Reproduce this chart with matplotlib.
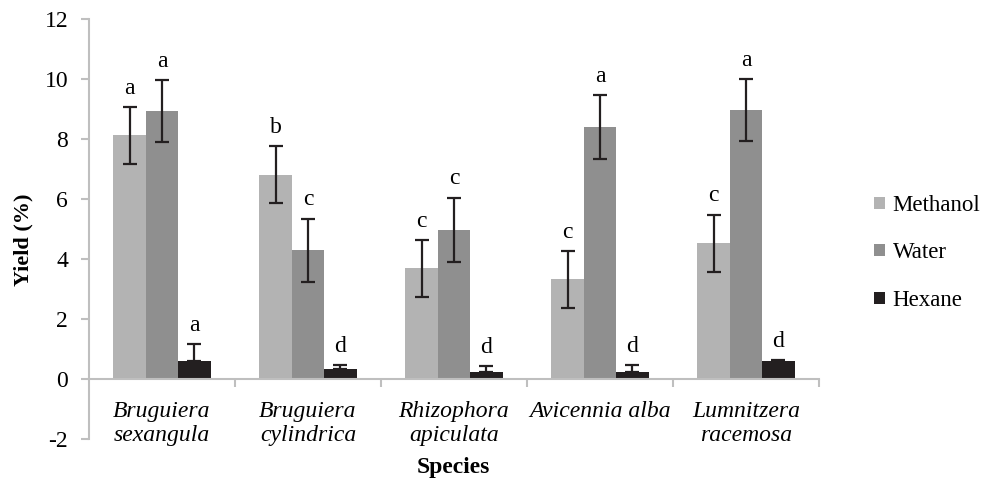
import numpy as np
import matplotlib
matplotlib.use("Agg")
import matplotlib.pyplot as plt

# data
species = ["Bruguiera\nsexangula", "Bruguiera\ncylindrica", "Rhizophora\napiculata",
           "Avicennia alba", "Lumnitzera\nracemosa"]
methanol = [8.12, 6.81, 3.69, 3.32, 4.53]
methanol_err = [0.94, 0.95, 0.94, 0.94, 0.95]
water = [8.93, 4.30, 4.97, 8.39, 8.96]
water_err = [1.03, 1.05, 1.08, 1.06, 1.03]
hexane = [0.60, 0.33, 0.23, 0.23, 0.60]
hexane_err = [0.56, 0.14, 0.20, 0.24, 0.02]
methanol_letters = ["a", "b", "c", "c", "c"]
water_letters = ["a", "c", "c", "a", "a"]
hexane_letters = ["a", "d", "d", "d", "d"]

plt.rcParams['font.family'] = ['Liberation Serif', 'DejaVu Serif']
plt.rcParams['axes.unicode_minus'] = False

fig = plt.figure(figsize=(9.81, 4.78), dpi=100)
ax = fig.add_axes([89 / 981, 1 - 439 / 478, 730 / 981, 420 / 478])

x = np.arange(len(species))
w = 0.222
# (name, values, errors, letters, colour, offset, show lower error)
series = [
    ("Methanol", methanol, methanol_err, methanol_letters, "#b3b3b3", -w, True),
    ("Water", water, water_err, water_letters, "#8f8f8f", 0, True),
    ("Hexane", hexane, hexane_err, hexane_letters, "#231f20", w, False),
]
for name, vals, errs, letters, col, off, lower in series:
    ax.bar(x + off, vals, w, color=col, label=name, zorder=2)
    lo = np.array(errs) if lower else np.zeros(len(errs))
    ax.errorbar(x + off, vals, yerr=[lo, errs], fmt="none", ecolor="#231f20",
                elinewidth=1.6, capsize=5, capthick=1.6, zorder=3)
    for xi, v, e, lt in zip(x + off, vals, errs, letters):
        ax.annotate(lt, (xi, v + e), xytext=(0, 6), textcoords="offset points",
                    ha="center", va="bottom", fontsize=17)

ax.set_xlim(-0.5, len(species) - 0.5)
ax.set_ylim(-2, 12)
ax.set_yticks(np.arange(-2, 13, 2))
ax.tick_params(axis="y", labelsize=17, length=6, width=1.5, color="#bfbfbf", pad=9)

ax.spines["bottom"].set_position(("data", 0))
ax.spines["top"].set_visible(False)
ax.spines["right"].set_visible(False)
for s in ("left", "bottom"):
    ax.spines[s].set_color("#bfbfbf")
    ax.spines[s].set_linewidth(1.5)

ax.set_xticks(x)
ax.set_xticklabels(species, fontsize=17, style="italic", linespacing=1.15)
ax.set_xticks(np.arange(len(species)) + 0.5, minor=True)
ax.tick_params(axis="x", which="major", length=0, pad=16)
ax.tick_params(axis="x", which="minor", length=6, width=1.5, color="#bfbfbf", direction="out")

ax.set_xlabel("Species", fontsize=17, fontweight="bold", va="center")
ax.xaxis.set_label_coords(0.499, -0.069)
ax.set_ylabel("Yield (%)", fontsize=16, fontweight="bold", va="center")
ax.yaxis.set_label_coords(-0.09, 0.474)

fig.legend(loc="center left", bbox_to_anchor=(863 / 981, 1 - 253 / 478), frameon=False,
           fontsize=16.5, handlelength=0.45, handleheight=0.45, handletextpad=0.35,
           labelspacing=1.15, borderpad=0)

fig.savefig("out.png", dpi=100)
